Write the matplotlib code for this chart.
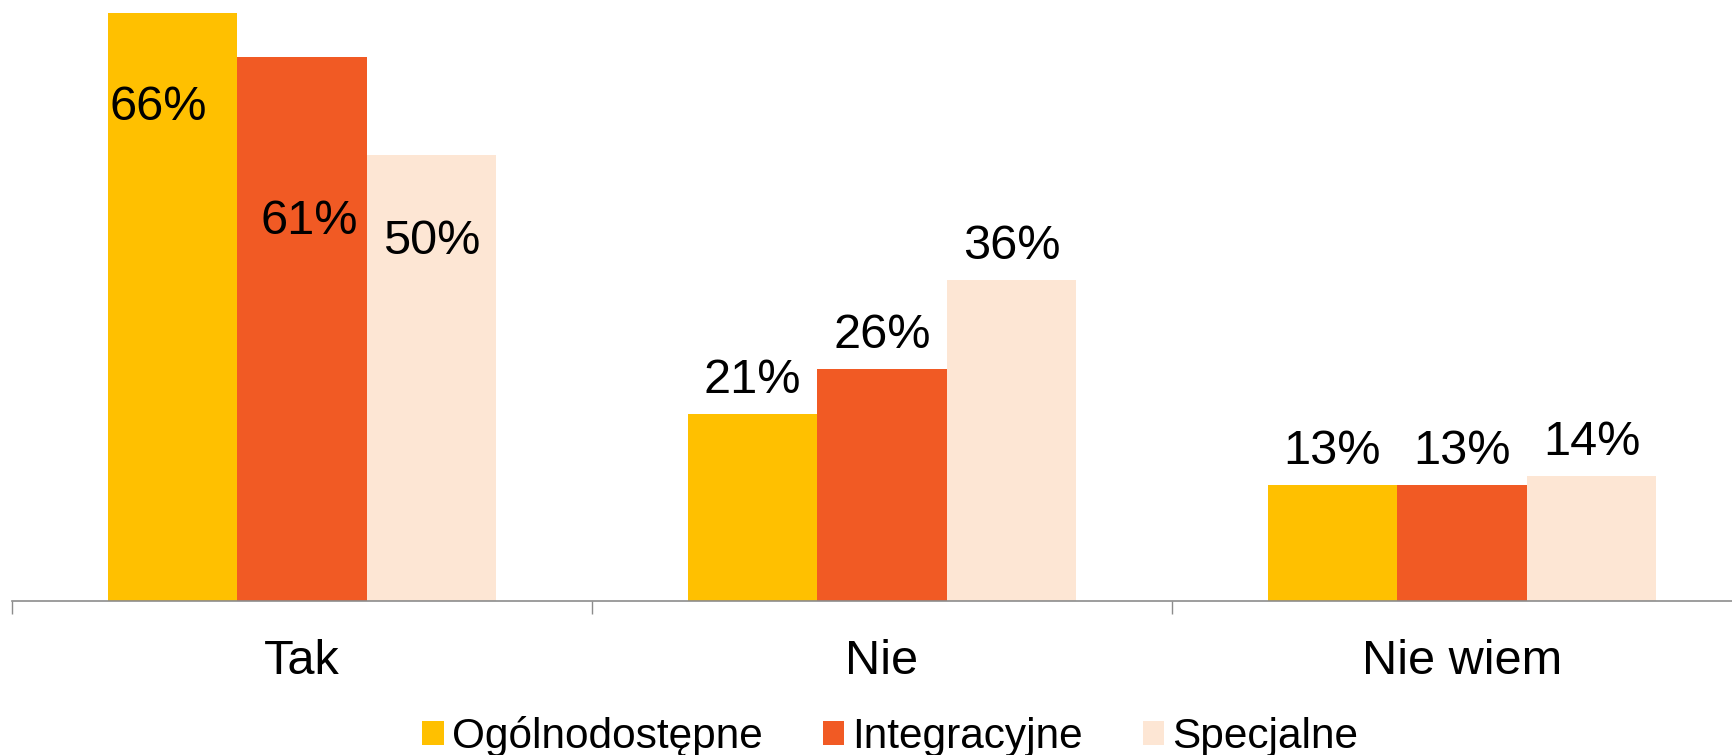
import matplotlib
matplotlib.use('Agg')
import matplotlib.pyplot as plt
import numpy as np

plt.rcParams['font.family'] = ['Liberation Sans', 'DejaVu Sans']

categories = ['Tak', 'Nie', 'Nie wiem']
series_names = ['Ogólnodostępne', 'Integracyjne', 'Specjalne']
ogolnodostepne = [66, 21, 13]
integracyjne = [61, 26, 13]
specjalne = [50, 36, 14]

colors = ['#FFC000', '#F15A24', '#FDE6D4']
# label offsets (points) for the first group, which sits inside the bars
inside_offsets = [(-10, -68), (5, -118), (0, -62)]

fig = plt.figure(figsize=(17.33, 7.55), dpi=100)
ax = fig.add_axes([12 / 1733, 154 / 755, 1740 / 1733, 601 / 755])

x = np.arange(len(categories))
w = 0.2233
all_vals = [ogolnodostepne, integracyjne, specjalne]

for i, (vals, name, c) in enumerate(zip(all_vals, series_names, colors)):
    pos = x + (i - 1) * w
    ax.bar(pos, vals, width=w, color=c, label=name, linewidth=0)
    for j in range(len(categories)):
        if j == 0:
            off = inside_offsets[i]
        else:
            off = (0, 24)
        ax.annotate('{}%'.format(vals[j]), xy=(pos[j], vals[j]), xytext=off,
                    textcoords='offset points', ha='center', va='center',
                    fontsize=35, color='black')

ax.set_xlim(-0.5, 2.5)
ax.set_ylim(0, 67.45)

for s in ['top', 'right', 'left']:
    ax.spines[s].set_visible(False)
ax.spines['bottom'].set_color('#8C8C8C')
ax.spines['bottom'].set_linewidth(1.2)
ax.set_yticks([])

ax.set_xticks([-0.5, 0.5, 1.5, 2.5])
ax.set_xticklabels([])
ax.tick_params(axis='x', which='major', direction='out', length=9.4,
               width=1.0, color='#8C8C8C')
ax.set_xticks(x, minor=True)
ax.set_xticklabels(categories, minor=True, fontsize=35)
ax.tick_params(axis='x', which='minor', length=0, pad=27)

fig.legend(loc='center', bbox_to_anchor=(0.5136, 0.025), ncol=3, frameon=False,
           fontsize=30.5, handlelength=0.5, handleheight=0.5,
           handletextpad=0.19, columnspacing=1.42, borderpad=0)

fig.savefig('out.png', dpi=100)
